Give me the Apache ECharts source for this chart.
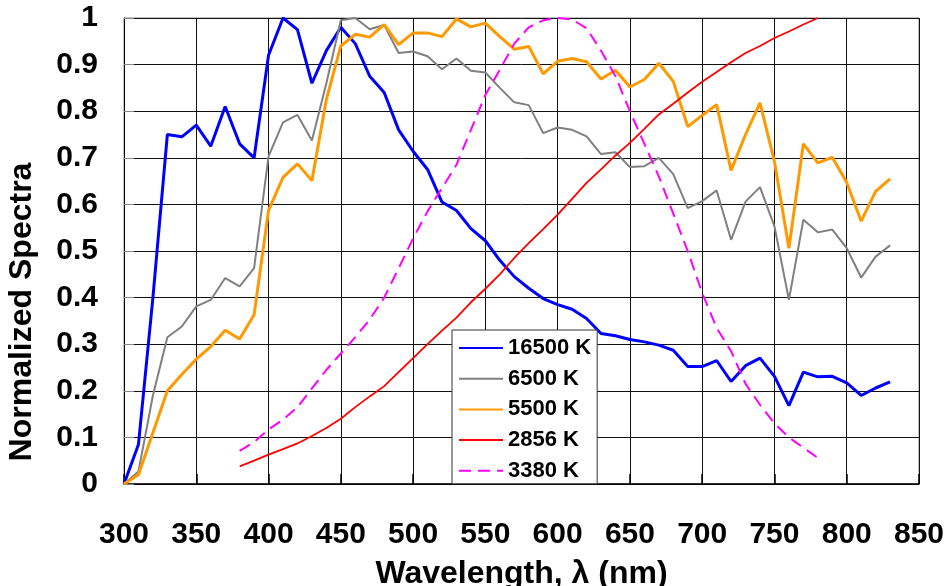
<!DOCTYPE html>
<html>
<head>
<meta charset="utf-8">
<script src="https://cdn.jsdelivr.net/npm/echarts@6/dist/echarts.min.js"></script>
<style>html,body{margin:0;padding:0;background:#fff;}#c{width:947px;height:586px;}</style>
</head>
<body>
<div id="c"></div>
<script>
var wlFull = [300,310,320,330,340,350,360,370,380,390,400,410,420,430,440,450,460,470,480,490,500,510,520,530,540,550,560,570,580,590,600,610,620,630,640,650,660,670,680,690,700,710,720,730,740,750,760,770,780,790,800,810,820,830];
var wlLamp = [380,390,400,410,420,430,440,450,460,470,480,490,500,510,520,530,540,550,560,570,580,590,600,610,620,630,640,650,660,670,680,690,700,710,720,730,740,750,760,770,780];

var s16500 = [0.0,0.085,0.40,0.75,0.745,0.77,0.725,0.81,0.73,0.70,0.92,1.0,0.975,0.86,0.93,0.98,0.945,0.875,0.84,0.76,0.714,0.675,0.605,0.587,0.548,0.522,0.48,0.445,0.42,0.398,0.385,0.375,0.355,0.323,0.318,0.31,0.305,0.298,0.287,0.252,0.252,0.265,0.22,0.254,0.27,0.231,0.168,0.24,0.23,0.231,0.217,0.19,0.206,0.219];
var s6500 = [0.0,0.027,0.19,0.315,0.338,0.381,0.395,0.442,0.424,0.463,0.703,0.776,0.792,0.737,0.86,0.995,1.0,0.976,0.985,0.925,0.928,0.918,0.89,0.913,0.887,0.883,0.85,0.819,0.813,0.753,0.765,0.76,0.746,0.708,0.712,0.68,0.682,0.70,0.665,0.592,0.607,0.63,0.524,0.606,0.637,0.553,0.395,0.567,0.54,0.546,0.506,0.443,0.488,0.512];
var s5500 = [0.0,0.02,0.11,0.2,0.235,0.268,0.295,0.33,0.311,0.363,0.587,0.658,0.687,0.651,0.825,0.94,0.965,0.959,0.986,0.943,0.968,0.968,0.96,0.998,0.981,0.989,0.96,0.933,0.939,0.88,0.907,0.913,0.906,0.869,0.888,0.852,0.868,0.903,0.864,0.767,0.791,0.814,0.673,0.75,0.818,0.692,0.506,0.73,0.689,0.701,0.647,0.564,0.628,0.655];
var s2856 = [0.038,0.05,0.063,0.075,0.087,0.103,0.12,0.14,0.165,0.188,0.21,0.24,0.27,0.3,0.329,0.357,0.39,0.419,0.45,0.485,0.517,0.547,0.578,0.612,0.646,0.675,0.705,0.732,0.762,0.793,0.816,0.84,0.863,0.884,0.905,0.925,0.94,0.957,0.971,0.986,1.0];
var s3380 = [0.071,0.09,0.117,0.138,0.165,0.205,0.245,0.28,0.315,0.353,0.40,0.463,0.527,0.585,0.635,0.685,0.76,0.835,0.889,0.945,0.98,0.995,1.0,0.997,0.978,0.93,0.875,0.8,0.73,0.66,0.58,0.5,0.41,0.335,0.285,0.215,0.17,0.13,0.1,0.078,0.056];

var seriesNames = ['16500 K','6500 K','5500 K','2856 K','3380 K'];
var xTicks = {min:300, max:850, interval:50};
var yTicks = {min:0, max:1, interval:0.1};

function pairs(xs, ys){ return xs.map(function(x,i){ return [x, ys[i]]; }); }

var FONT = '"Liberation Sans", Arial, sans-serif';
var chart = echarts.init(document.getElementById('c'), null, {renderer:'canvas'});
chart.setOption({
  animation:false,
  backgroundColor:'#fff',
  grid:{left:124, right:28, top:18, bottom:102, show:true, borderColor:'#888', borderWidth:1, containLabel:false, outerBoundsMode:'none'},
  xAxis:{
    type:'value', min:xTicks.min, max:xTicks.max, interval:xTicks.interval,
    name:'Wavelength, λ (nm)', nameLocation:'middle', nameGap:74,
    nameTextStyle:{fontFamily:FONT, fontWeight:'bold', fontSize:32, color:'#000'},
    axisLine:{lineStyle:{color:'#000', width:1.5}},
    axisTick:{inside:true, length:10, lineStyle:{color:'#000', width:1.5}},
    axisLabel:{margin:36, fontFamily:FONT, fontWeight:'bold', fontSize:30, color:'#000'},
    splitLine:{show:true, lineStyle:{color:'#111', width:1}}
  },
  yAxis:{
    type:'value', min:yTicks.min, max:yTicks.max, interval:yTicks.interval,
    name:'Normalized Spectra', nameLocation:'middle', nameGap:86,
    nameTextStyle:{fontFamily:FONT, fontWeight:'bold', fontSize:32, color:'#000', padding:[0,122,0,0]},
    axisLine:{show:true, lineStyle:{color:'#000', width:1}},
    axisTick:{show:true, inside:true, length:10, lineStyle:{color:'#888', width:1}},
    axisLabel:{margin:26, fontFamily:FONT, fontWeight:'bold', fontSize:30, color:'#000'},
    splitLine:{show:true, lineStyle:{color:'#111', width:1}}
  },
  legend:{
    orient:'vertical', left:452, top:330, padding:[7,6,2,6], itemGap:8.7,
    itemWidth:44, itemHeight:14, itemTextGap:5,
    itemStyle:{opacity:0},
    backgroundColor:'#fff', borderColor:'#333', borderWidth:1, borderRadius:0,
    textStyle:{fontFamily:FONT, fontWeight:'bold', fontSize:22, color:'#000'},
    data:seriesNames
  },
  series:[
    {name:seriesNames[0], type:'line', symbol:'none', data:pairs(wlFull, s16500), color:'#0000FF', lineStyle:{width:3, color:'#0000FF'}},
    {name:seriesNames[1], type:'line', symbol:'none', data:pairs(wlFull, s6500), color:'#808080', lineStyle:{width:2, color:'#808080'}},
    {name:seriesNames[2], type:'line', symbol:'none', data:pairs(wlFull, s5500), color:'#FF9900', lineStyle:{width:3, color:'#FF9900'}},
    {name:seriesNames[3], type:'line', symbol:'none', data:pairs(wlLamp, s2856), color:'#FF0000', lineStyle:{width:1.8, color:'#FF0000'}},
    {name:seriesNames[4], type:'line', symbol:'none', data:pairs(wlLamp, s3380), color:'#FF00FF', lineStyle:{width:2, color:'#FF00FF', type:[12,7]}}
  ]
});
</script>
</body>
</html>
